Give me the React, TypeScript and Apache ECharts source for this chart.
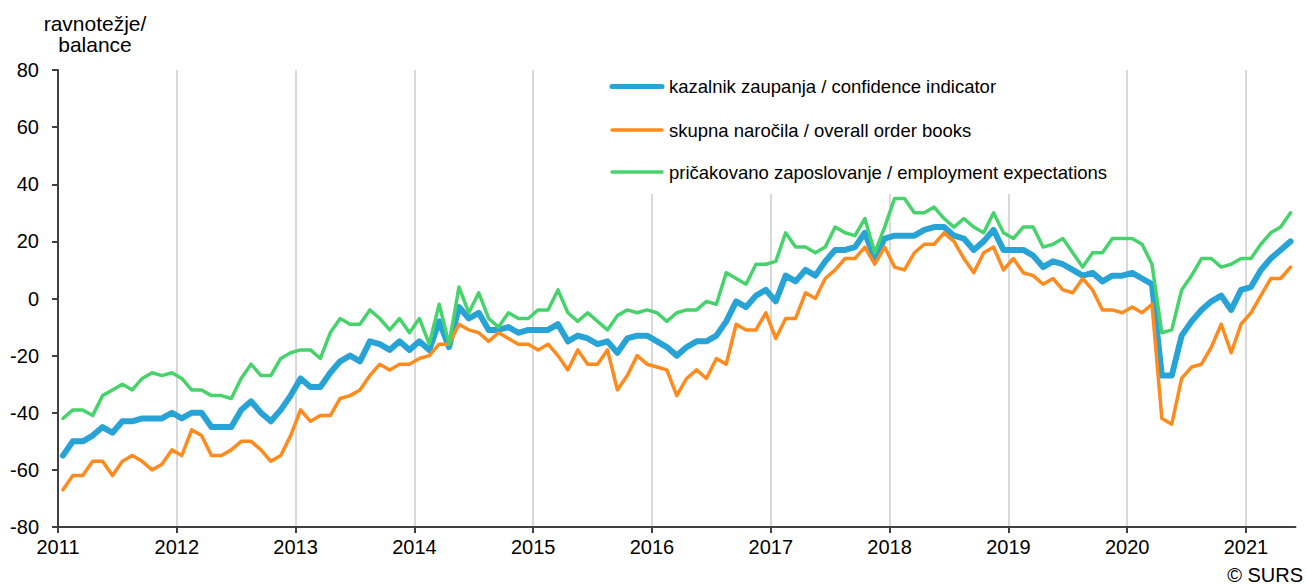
import React, { useEffect, useRef } from "react";
import * as echarts from "echarts";

const startYear = 2011;
const yearTicks = [0, 12, 24, 36, 48, 60, 72, 84, 96, 108, 120];

const seriesNames = [
  "kazalnik zaupanja / confidence indicator",
  "skupna naročila / overall order books",
  "pričakovano zaposlovanje / employment expectations",
];

// monthly values, Jan 2011 – May 2021
const confidence = [
  -55, -50, -50, -48, -45, -47, -43, -43, -42, -42, -42, -40,
  -42, -40, -40, -45, -45, -45, -39, -36, -40, -43, -39, -34,
  -28, -31, -31, -26, -22, -20, -22, -15, -16, -18, -15, -18,
  -15, -18, -8, -17, -3, -7, -5, -11, -11, -10, -12, -11,
  -11, -11, -9, -15, -13, -14, -16, -15, -19, -14, -13, -13,
  -15, -17, -20, -17, -15, -15, -13, -8, -1, -3, 1, 3,
  -1, 8, 6, 10, 8, 13, 17, 17, 18, 23, 14, 21,
  22, 22, 22, 24, 25, 25, 22, 21, 17, 20, 24, 17,
  17, 17, 15, 11, 13, 12, 10, 8, 9, 6, 8, 8,
  9, 7, 5, -27, -27, -13, -8, -4, -1, 1, -4, 3,
  4, 10, 14, 17, 20,
];

const orderBooks = [
  -67, -62, -62, -57, -57, -62, -57, -55, -57, -60, -58, -53,
  -55, -46, -48, -55, -55, -53, -50, -50, -53, -57, -55, -48,
  -39, -43, -41, -41, -35, -34, -32, -27, -23, -25, -23, -23,
  -21, -20, -16, -16, -9, -11, -12, -15, -12, -14, -16, -16,
  -18, -16, -20, -25, -18, -23, -23, -18, -32, -27, -20, -23,
  -24, -25, -34, -28, -25, -28, -21, -23, -9, -11, -11, -5,
  -14, -7, -7, 2, 0, 7, 10, 14, 14, 18, 12, 18,
  11, 10, 16, 19, 19, 23, 20, 14, 9, 16, 18, 10,
  14, 9, 8, 5, 7, 3, 2, 7, 3, -4, -4, -5,
  -3, -5, -2, -42, -44, -28, -24, -23, -17, -9, -19, -9,
  -5, 1, 7, 7, 11,
];

const employment = [
  -42, -39, -39, -41, -34, -32, -30, -32, -28, -26, -27, -26,
  -28, -32, -32, -34, -34, -35, -28, -23, -27, -27, -21, -19,
  -18, -18, -21, -12, -7, -9, -9, -4, -7, -11, -7, -12,
  -7, -16, -2, -16, 4, -5, 2, -7, -10, -5, -7, -7,
  -4, -4, 3, -5, -8, -5, -8, -11, -6, -4, -5, -4,
  -5, -8, -5, -4, -4, -1, -2, 9, 7, 5, 12, 12,
  13, 23, 18, 18, 16, 18, 25, 23, 22, 28, 16, 25,
  35, 35, 30, 30, 32, 28, 25, 28, 25, 23, 30, 23,
  21, 25, 25, 18, 19, 21, 16, 11, 16, 16, 21, 21,
  21, 19, 12, -12, -11, 3, 8, 14, 14, 11, 12, 14,
  14, 19, 23, 25, 30,
];

const colors = ["#27A3D6", "#FF8A1E", "#47D36C"];
const widths = [6, 3.5, 3.5];
const legendWidths = [5, 3.5, 3.5];
const FONT = "'Liberation Sans', Arial, sans-serif";

const toPoints = (arr: number[]) => arr.map((v, i) => [i + 0.5, v]);

export default function App() {
  const ref = useRef<HTMLDivElement>(null);
  useEffect(() => {
    if (!ref.current) return;
    const chart = echarts.init(ref.current, null, { renderer: "svg" });
    const allSeries = [confidence, orderBooks, employment];
    const legendRowsY = [86.5, 130, 172];
    const legendGraphics: any[] = [
      {
        type: "rect",
        z: 50,
        shape: { x: 600, y: 60, width: 520, height: 134 },
        style: { fill: "#fff" },
        silent: true,
      },
    ];
    seriesNames.forEach((name, k) => {
      legendGraphics.push({
        type: "line",
        z: 51,
        shape: { x1: 612, y1: legendRowsY[k], x2: 662, y2: legendRowsY[k] },
        style: { stroke: colors[k], lineWidth: legendWidths[k], lineCap: "round" },
      });
      legendGraphics.push({
        type: "text",
        z: 51,
        x: 669,
        y: legendRowsY[k],
        style: {
          text: name,
          fill: "#000",
          font: `18.5px ${FONT}`,
          verticalAlign: "middle",
        },
      });
    });
    chart.setOption({
      animation: false,
      grid: { left: 58, right: 10.5, top: 70, bottom: 58, containLabel: false },
      xAxis: {
        type: "value",
        min: 0,
        max: 125,
        interval: 12,
        axisLine: { show: true, onZero: false, lineStyle: { color: "#404040", width: 2 } },
        axisTick: { show: true, length: 6, customValues: yearTicks, lineStyle: { color: "#404040", width: 2 } },
        axisLabel: {
          customValues: yearTicks,
          formatter: (v: number) => String(startYear + Math.round(v / 12)),
          color: "#000",
          fontSize: 20,
          fontFamily: FONT,
          margin: 10,
        },
        splitLine: { show: true, lineStyle: { color: "#D9D9D9", width: 2 } },
      },
      yAxis: {
        type: "value",
        min: -80,
        max: 80,
        interval: 20,
        axisLine: { show: true, lineStyle: { color: "#404040", width: 2 } },
        axisTick: { show: true, length: 6, lineStyle: { color: "#404040", width: 2 } },
        axisLabel: { color: "#000", fontSize: 20, fontFamily: FONT, margin: 19 },
        splitLine: { show: false },
      },
      series: allSeries.map((arr, k) => ({
        name: seriesNames[k],
        type: "line",
        data: toPoints(arr),
        symbol: "none",
        lineStyle: { color: colors[k], width: widths[k], join: "round", cap: "round" },
        itemStyle: { color: colors[k] },
        z: 2 + k,
      })),
      graphic: [
        {
          type: "text",
          x: 95,
          y: 13,
          style: {
            text: "ravnotežje/\nbalance",
            fill: "#000",
            font: `21px ${FONT}`,
            align: "center",
            verticalAlign: "top",
            lineHeight: 21,
          },
        },
        {
          type: "text",
          x: 1303,
          y: 575,
          style: {
            text: "© SURS",
            fill: "#000",
            font: `20px ${FONT}`,
            align: "right",
            verticalAlign: "middle",
          },
        },
        ...legendGraphics,
      ],
    });
    return () => chart.dispose();
  }, []);
  return (
    <div
      ref={ref}
      style={{ position: "absolute", left: 0, top: 0, width: 1306, height: 585, background: "#fff" }}
    />
  );
}
